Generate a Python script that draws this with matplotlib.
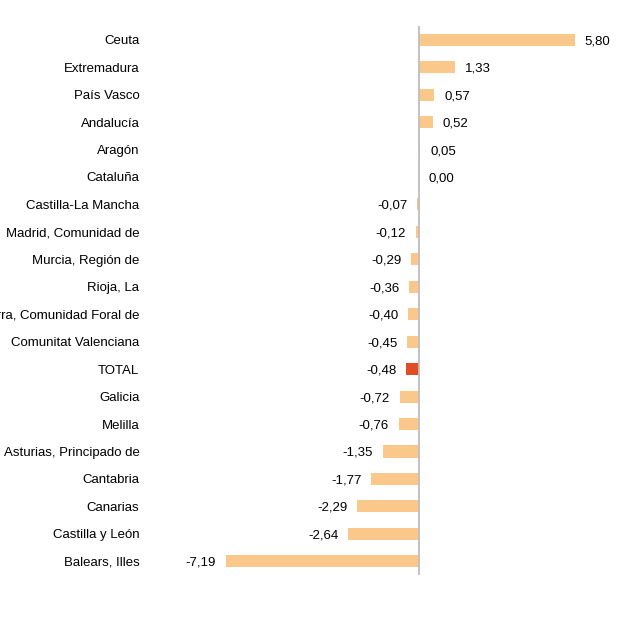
import numpy as np
import matplotlib.pyplot as plt

plt.rcParams['font.family'] = ['Liberation Sans', 'DejaVu Sans']

regions = ["Ceuta", "Extremadura", "País Vasco", "Andalucía", "Aragón", "Cataluña",
           "Castilla-La Mancha", "Madrid, Comunidad de", "Murcia, Región de", "Rioja, La",
           "Navarra, Comunidad Foral de", "Comunitat Valenciana", "TOTAL", "Galicia",
           "Melilla", "Asturias, Principado de", "Cantabria", "Canarias",
           "Castilla y León", "Balears, Illes"]
values = [5.80, 1.33, 0.57, 0.52, 0.05, 0.00, -0.07, -0.12, -0.29, -0.36,
          -0.40, -0.45, -0.48, -0.72, -0.76, -1.35, -1.77, -2.29, -2.64, -7.19]

BAR = "#FBC88C"
TOT = "#E04E26"

fig = plt.figure(figsize=(6.21, 6.21), dpi=100)
# axes spans x px 145..621, y px 26..575
ax = fig.add_axes([145 / 621, 46 / 621, 476 / 621, 549 / 621])

y = np.arange(len(regions))
colors = [TOT if r == "TOTAL" else BAR for r in regions]
ax.barh(y, values, height=0.44, color=colors, zorder=2)
ax.axvline(0, color="#BDBDBD", lw=1.3, zorder=3)

for yi, v in zip(y, values):
    lbl = f"{v:.2f}".replace(".", ",")
    if v >= 0:
        ax.annotate(lbl, (v, yi), xytext=(7, 0), textcoords="offset points",
                    ha="left", va="center_baseline", fontsize=9.5)
    else:
        ax.annotate(lbl, (v, yi), xytext=(-7, 0), textcoords="offset points",
                    ha="right", va="center_baseline", fontsize=9.5)

ax.set_xlim(-10.19, 7.51)
ax.set_ylim(len(regions) - 0.5, -0.5)
ax.set_yticks(y)
ax.set_yticklabels(regions, fontsize=9.5, va="center_baseline")
ax.tick_params(axis="y", length=0, pad=4)
ax.set_xticks([])
for s in ax.spines.values():
    s.set_visible(False)

plt.savefig("out.png", dpi=100, facecolor="white")
